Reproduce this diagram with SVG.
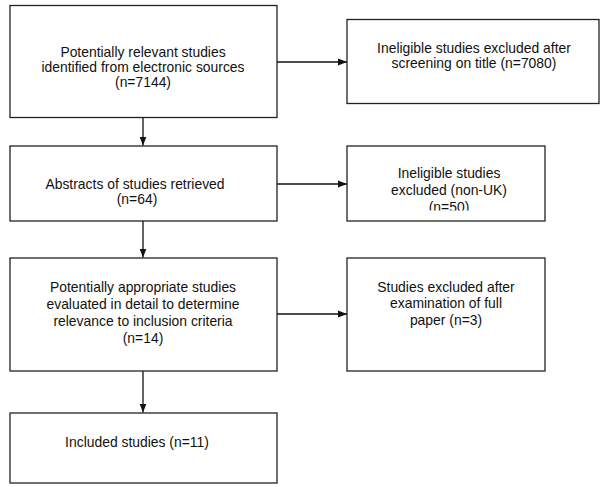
<svg xmlns="http://www.w3.org/2000/svg" width="600" height="487" viewBox="0 0 600 487">
<style>
.box{fill:#fff;stroke:#222;stroke-width:1.3}
.t{font-family:"Liberation Sans",Arial,sans-serif;font-size:13.9px;fill:#111;text-anchor:middle}
.c{stroke:#111;stroke-width:1.3;fill:none}
</style>
<defs>
<marker id="ah" markerWidth="10" markerHeight="8" refX="9" refY="4" orient="auto" markerUnits="userSpaceOnUse">
<path d="M0,0.5 L9,4 L0,7.5 Z" fill="#111"/>
</marker>
<clipPath id="clip2"><rect x="347" y="146" width="198" height="64.5"/></clipPath>
</defs>
<rect width="600" height="487" fill="#fff"/>
<g id="connectors">
<line class="c" x1="143" y1="117.5" x2="143" y2="145.5" marker-end="url(#ah)"/>
<line class="c" x1="143" y1="221" x2="143" y2="257.5" marker-end="url(#ah)"/>
<line class="c" x1="143" y1="371" x2="143" y2="412.5" marker-end="url(#ah)"/>
<line class="c" x1="277" y1="62" x2="347" y2="62" marker-end="url(#ah)"/>
<line class="c" x1="277" y1="184" x2="347" y2="184" marker-end="url(#ah)"/>
<line class="c" x1="277" y1="314" x2="347" y2="314" marker-end="url(#ah)"/>
</g>
<g id="n1">
<rect class="box" x="10" y="5.5" width="267" height="112"/>
<text class="t" x="143" y="57">Potentially relevant studies</text>
<text class="t" x="143" y="72">identified from electronic sources</text>
<text class="t" x="143" y="87">(n=7144)</text>
</g>
<g id="n2">
<rect class="box" x="10" y="146" width="267" height="75"/>
<text class="t" x="135" y="189">Abstracts of studies retrieved</text>
<text class="t" x="137" y="204">(n=64)</text>
</g>
<g id="n3">
<rect class="box" x="10" y="258" width="267" height="113"/>
<text class="t" x="143" y="292">Potentially appropriate studies</text>
<text class="t" x="143" y="309">evaluated in detail to determine</text>
<text class="t" x="143" y="326">relevance to inclusion criteria</text>
<text class="t" x="143" y="343">(n=14)</text>
</g>
<g id="n4">
<rect class="box" x="10" y="413" width="267" height="70"/>
<text class="t" x="137" y="447">Included studies (n=11)</text>
</g>
<g id="e1">
<rect class="box" x="347" y="19.5" width="252" height="84"/>
<text class="t" x="474" y="53">Ineligible studies excluded after</text>
<text class="t" x="474" y="68">screening on title (n=7080)</text>
</g>
<g id="e2">
<rect class="box" x="347" y="146" width="198" height="75"/>
<g clip-path="url(#clip2)">
<text class="t" x="449" y="178">Ineligible studies</text>
<text class="t" x="449" y="195">excluded (non-UK)</text>
<text class="t" x="449" y="212">(n=50)</text>
</g>
</g>
<g id="e3">
<rect class="box" x="347" y="258" width="198" height="113"/>
<text class="t" x="446" y="292">Studies excluded after</text>
<text class="t" x="446" y="308">examination of full</text>
<text class="t" x="446" y="325">paper (n=3)</text>
</g>
</svg>
